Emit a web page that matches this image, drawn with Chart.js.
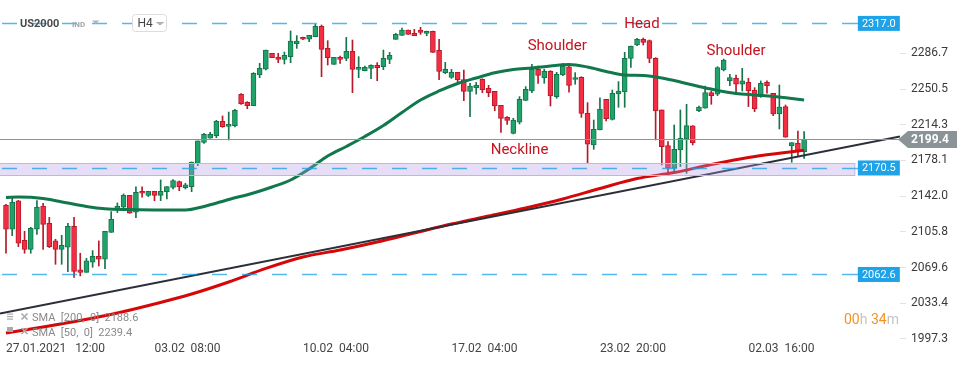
<!DOCTYPE html>
<html>
<head>
<meta charset="utf-8">
<script src="https://cdn.jsdelivr.net/npm/chart.js@4.4.1/dist/chart.umd.min.js"></script>
<style>
html, body { margin: 0; padding: 0; background: #fff; }
#wrap { width: 970px; height: 365px; }
</style>
</head>
<body>
<div id="wrap"><canvas id="chart" width="970" height="365"></canvas></div>
<script>
// US2000, H4 candles (27.01.2021 12:00 -> 02.03 after 16:00)
const opens = [2133.0,2108.4,2137.1,2097.2,2088.1,2108.4,2132.0,2114.5,2096.6,2088.1,
  2090.2,2111.4,2067.2,2064.8,2075.0,2081.0,2078.0,2105.3,2129.0,2130.7,
  2142.8,2125.6,2146.9,2142.8,2146.9,2142.8,2146.5,2150.9,2156.7,2150.6,
  2151.6,2175.2,2196.5,2200.6,2203.3,2217.8,2212.7,2213.4,2245.1,2237.0,
  2233.6,2264.7,2270.5,2286.7,2282.9,2280.6,2283.3,2296.5,2302.9,2300.9,
  2303.5,2314.0,2291.7,2275.5,2282.6,2281.6,2288.7,2270.4,2269.1,2271.4,
  2274.5,2273.1,2280.5,2300.8,2304.9,2310.3,2306.9,2310.3,2306.9,2308.9,
  2289.7,2267.0,2262.3,2267.4,2260.0,2248.1,2251.8,2260.3,2251.2,2248.1,
  2234.0,2221.8,2205.6,2216.8,2239.0,2248.5,2270.5,2262.0,2268.4,2242.8,
  2264.7,2273.1,2260.3,2262.3,2225.9,2193.8,2209.0,2240.1,2219.8,2245.5,
  2247.5,2281.6,2295.1,2300.8,2299.5,2281.6,2229.3,2193.1,2170.2,2188.8,
  2199.6,2213.1,2228.6,2231.0,2246.8,2245.2,2269.8,2259.0,2261.4,2255.3,
  2257.3,2249.5,2242.8,2257.3,2246.2,2225.2,2232.7,2192.8,2195.5,2187.1];
const highs = [2133.7,2139.8,2137.8,2106.4,2110.4,2137.4,2134.7,2120.5,2098.3,2102.3,
  2114.5,2120.5,2084.1,2079.0,2086.8,2096.6,2106.4,2126.3,2135.1,2144.2,
  2142.8,2151.3,2151.3,2146.9,2146.9,2158.4,2151.6,2158.7,2157.3,2155.0,
  2176.6,2197.9,2205.6,2206.6,2218.8,2223.2,2227.2,2229.9,2245.8,2237.7,
  2267.1,2276.5,2290.0,2286.7,2286.7,2288.0,2309.3,2304.6,2303.2,2304.9,
  2316.0,2315.4,2299.5,2282.6,2283.9,2302.8,2300.1,2283.3,2273.8,2275.0,
  2277.2,2290.0,2287.6,2306.9,2312.3,2310.3,2311.0,2313.0,2309.2,2309.2,
  2300.8,2277.5,2270.4,2267.4,2269.7,2256.2,2257.2,2260.9,2254.2,2248.1,
  2234.0,2222.5,2220.8,2242.8,2252.9,2275.5,2273.8,2270.5,2269.1,2267.4,
  2276.5,2273.8,2267.1,2263.0,2236.7,2219.1,2241.7,2240.1,2249.5,2258.0,
  2287.7,2294.1,2301.9,2302.2,2300.2,2282.3,2229.3,2197.2,2214.1,2229.3,
  2235.0,2213.4,2233.3,2253.6,2248.5,2273.2,2280.9,2265.4,2264.7,2271.5,
  2261.4,2251.9,2258.7,2258.7,2246.2,2254.6,2234.3,2196.2,2208.0,2207.3];
const lows = [2084.1,2102.0,2090.8,2084.1,2084.1,2103.3,2088.1,2089.8,2072.9,2072.9,
  2065.5,2059.7,2061.1,2064.8,2069.9,2071.2,2068.5,2105.3,2125.3,2130.3,
  2124.6,2120.2,2140.8,2141.5,2137.4,2137.4,2139.1,2149.2,2147.5,2149.2,
  2146.5,2172.9,2195.5,2200.6,2201.2,2211.7,2198.9,2212.0,2235.0,2230.6,
  2233.6,2262.0,2269.8,2282.3,2277.2,2275.9,2277.2,2291.7,2300.6,2298.5,
  2303.5,2263.0,2274.8,2275.5,2276.5,2279.2,2246.8,2262.0,2268.8,2261.0,
  2258.9,2270.1,2276.2,2300.8,2304.9,2305.9,2304.5,2305.9,2304.5,2287.6,
  2260.0,2266.0,2261.3,2257.9,2238.7,2222.5,2245.4,2246.8,2242.7,2228.5,
  2206.6,2214.7,2205.0,2215.1,2238.7,2246.8,2256.3,2256.3,2233.3,2241.1,
  2264.0,2247.2,2255.3,2221.8,2175.2,2189.4,2209.0,2218.1,2219.1,2232.0,
  2232.0,2272.5,2294.4,2295.1,2277.2,2198.9,2173.6,2164.4,2165.1,2171.9,
  2165.1,2193.8,2227.6,2231.0,2235.0,2243.8,2268.8,2253.9,2245.2,2248.5,
  2232.7,2227.6,2242.1,2246.2,2223.5,2210.0,2201.6,2176.3,2182.0,2180.3];
const closes = [2108.4,2135.7,2094.2,2088.1,2109.4,2131.0,2113.4,2090.8,2088.1,2092.2,
  2111.4,2065.8,2064.8,2076.3,2081.0,2078.0,2106.4,2118.5,2131.7,2142.8,
  2124.6,2145.9,2144.9,2146.9,2142.8,2146.9,2151.6,2157.7,2151.6,2153.3,
  2176.6,2197.9,2204.6,2204.6,2217.8,2212.4,2214.7,2228.9,2235.7,2233.6,
  2266.4,2271.5,2290.0,2282.3,2280.6,2284.6,2299.2,2299.2,2300.9,2304.9,
  2314.0,2290.7,2282.3,2282.6,2280.5,2288.7,2270.4,2272.4,2272.4,2274.5,
  2272.1,2281.6,2284.6,2305.9,2310.3,2305.9,2304.5,2307.9,2308.9,2287.6,
  2268.4,2270.4,2267.4,2260.0,2248.1,2253.5,2254.2,2249.8,2246.8,2233.3,
  2220.8,2218.8,2219.1,2240.1,2250.2,2270.5,2264.4,2268.4,2243.4,2265.4,
  2273.8,2254.2,2262.0,2225.9,2194.5,2209.7,2230.3,2220.5,2246.1,2248.5,
  2281.6,2294.1,2300.8,2297.8,2281.6,2228.2,2192.1,2170.2,2189.4,2200.6,
  2213.4,2196.2,2232.3,2246.8,2243.8,2272.2,2279.9,2262.0,2255.3,2258.7,
  2248.5,2230.3,2256.3,2253.9,2225.2,2232.3,2201.6,2196.2,2187.1,2199.4];

// time axis: candle index of each label
const tickIdx = [0, 24, 48, 72, 96, 120];
const tickLabels = ['27.01.2021   12:00', '03.02  08:00', '10.02  04:00', '17.02  04:00', '23.02  20:00', '02.03  16:00'];
const priceTicks = [1997.3, 2033.4, 2069.6, 2105.8, 2142.0, 2178.1, 2214.3, 2250.5, 2286.7];

// moving averages
const sma50Idx = [0, 2, 6, 10, 13, 16, 20, 25, 29, 32, 36, 40, 43, 46, 49, 52, 55, 58, 61, 64, 67, 70, 73, 76, 79, 82, 85, 88, 91, 94, 97, 100, 103, 106, 109, 112, 115, 118, 121, 124, 127, 129];
const sma50 = [2140.6, 2141.1, 2139.6, 2135.0, 2131.5, 2129.2, 2128.4, 2127.9, 2127.9, 2131.5, 2138.6, 2145.2, 2151.2, 2158.3, 2169.5, 2182.6, 2192.3, 2202.4, 2213.5, 2226.7, 2239.4, 2248.5, 2256.1, 2261.7, 2267.0, 2270.3, 2271.8, 2273.8, 2275.3, 2272.8, 2268.3, 2264.7, 2264.2, 2261.7, 2257.6, 2253.1, 2249.0, 2246.0, 2244.4, 2242.9, 2240.9, 2239.4];
const sma200Idx = [0, 6, 12, 18, 24, 30, 36, 42, 48, 54, 60, 66, 72, 78, 84, 90, 96, 102, 108, 114, 120, 126, 129];
const sma200 = [2003.3, 2009.4, 2016.0, 2023.6, 2032.7, 2042.8, 2055.0, 2068.7, 2080.3, 2087.4, 2095.5, 2104.6, 2113.7, 2121.8, 2130.0, 2139.1, 2149.7, 2159.8, 2165.9, 2174.0, 2181.1, 2186.2, 2188.6];

// trend line end points
const trendIdx = [-0.97, 144.5];
const trendVal = [2023.1, 2202.3];

const levels = [2317.0, 2170.5, 2062.6];
const lastPrice = 2199.4;
const zone = [2163.4, 2175.5];
const notes = [
  { text: 'Head', i: 102.8, p: 2316.4 },
  { text: 'Shoulder', i: 89.1, p: 2294.1 },
  { text: 'Shoulder', i: 118.0, p: 2289.0 },
  { text: 'Neckline', i: 83.0, p: 2188.2 }
];

const upFill = '#1fa36b', upLine = '#16744b';
const dnFill = '#f32e43', dnLine = '#b8192a';
const isUp = i => closes[i] >= opens[i];

const wickData = lows.map((l, i) => ({ x: i, y: [l, highs[i]] }));
const bodyData = opens.map((o, i) => ({ x: i, y: [Math.min(o, closes[i]), Math.max(o, closes[i])] }));
const pts = (xs, ys) => xs.map((v, k) => ({ x: v, y: ys[k] }));

const FONT = 'Roboto, "Noto Sans", sans-serif';

const extras = {
  id: 'extras',
  afterDatasetsDraw(chart) {
    const { ctx, chartArea: a, scales: { x, y } } = chart;
    const edge = x.getPixelForValue(137.2);
    ctx.save();
    // support zone
    const zt = y.getPixelForValue(zone[1]), zb = y.getPixelForValue(zone[0]);
    ctx.fillStyle = 'rgba(175,155,228,0.33)';
    ctx.fillRect(a.left, zt, edge - a.left, zb - zt);
    ctx.strokeStyle = '#c2b4e4';
    ctx.lineWidth = 1;
    ctx.strokeRect(a.left - 1, Math.round(zt) + 0.5, edge - a.left + 1, Math.round(zb - zt));
    // dashed levels
    levels.forEach(v => {
      const py = Math.round(y.getPixelForValue(v)) + 0.5;
      ctx.strokeStyle = 'rgba(25,160,230,0.75)';
      ctx.lineWidth = 1.5;
      ctx.setLineDash([15, 15]);
      ctx.beginPath(); ctx.moveTo(a.left + 2, py); ctx.lineTo(edge - 10, py); ctx.stroke();
      ctx.setLineDash([]);
      ctx.beginPath(); ctx.moveTo(edge - 10, py); ctx.lineTo(edge + 4, py); ctx.stroke();
    });
    // last price line
    const lp = Math.round(y.getPixelForValue(lastPrice)) + 0.5;
    ctx.strokeStyle = '#8d9595';
    ctx.lineWidth = 1;
    ctx.beginPath(); ctx.moveTo(a.left, lp); ctx.lineTo(a.right, lp); ctx.stroke();
    ctx.restore();
  },
  afterDraw(chart) {
    const { ctx, chartArea: a, scales: { x, y } } = chart;
    const edge = x.getPixelForValue(137.2);
    ctx.save();
    // level boxes
    levels.forEach(v => {
      const py = y.getPixelForValue(v);
      ctx.fillStyle = '#1ea2e8';
      ctx.fillRect(edge + 3, py - 7.5, 42, 15);
      ctx.fillStyle = '#fff';
      ctx.font = '11px ' + FONT;
      ctx.textAlign = 'center';
      ctx.textBaseline = 'middle';
      ctx.fillText(v.toFixed(1), edge + 24, py + 0.5);
    });
    // last price tag
    const lp = y.getPixelForValue(lastPrice);
    ctx.fillStyle = '#8a9496';
    ctx.beginPath();
    ctx.moveTo(a.right - 2, lp);
    ctx.lineTo(a.right + 8, lp - 8.5);
    ctx.lineTo(a.right + 57, lp - 8.5);
    ctx.lineTo(a.right + 57, lp + 8.5);
    ctx.lineTo(a.right + 8, lp + 8.5);
    ctx.closePath();
    ctx.fill();
    ctx.fillStyle = '#fff';
    ctx.font = 'bold 12px ' + FONT;
    ctx.textAlign = 'left';
    ctx.textBaseline = 'middle';
    ctx.fillText(lastPrice.toFixed(1), a.right + 11, lp + 0.5);
    // pattern notes
    ctx.fillStyle = '#c3141f';
    ctx.font = '15px ' + FONT;
    ctx.textAlign = 'center';
    notes.forEach(n => ctx.fillText(n.text, x.getPixelForValue(n.i), y.getPixelForValue(n.p)));
    // header
    ctx.textAlign = 'left';
    ctx.fillStyle = '#4a4a4a';
    ctx.font = 'bold 11px ' + FONT;
    ctx.fillText('US2000', 20, 24);
    ctx.fillStyle = '#a0a4a8';
    ctx.font = 'bold 8px ' + FONT;
    ctx.fillText('IND', 72, 25);
    ctx.fillStyle = '#b0b4b8';
    ctx.beginPath(); ctx.moveTo(92, 20.5); ctx.lineTo(99.5, 20.5); ctx.lineTo(95.75, 24); ctx.closePath(); ctx.fill();
    ctx.strokeStyle = '#dcdcdc';
    ctx.fillStyle = '#fff';
    ctx.lineWidth = 1;
    ctx.beginPath(); ctx.roundRect(132.5, 14.5, 34, 17, 3); ctx.fill(); ctx.stroke();
    ctx.fillStyle = '#444';
    ctx.font = '12px ' + FONT;
    ctx.fillText('H4', 137.5, 23.5);
    ctx.fillStyle = '#b0b4b8';
    ctx.beginPath(); ctx.moveTo(155.5, 22); ctx.lineTo(164.5, 22); ctx.lineTo(160, 25.5); ctx.closePath(); ctx.fill();
    // indicator legend
    ctx.fillStyle = '#8a8a8a';
    ctx.font = '11px ' + FONT;
    ctx.fillText('SMA  [200,  0]  ' + sma200[sma200.length - 1].toFixed(1), 32, 318);
    ctx.fillText('SMA  [50,  0]  ' + sma50[sma50.length - 1].toFixed(1), 32, 333);
    ctx.fillStyle = '#aaaaaa';
    [314, 316.5, 319].forEach(yy => ctx.fillRect(7, yy - 0.5, 6, 1.2));
    ctx.fillRect(7, 327, 6, 5);
    ctx.strokeStyle = '#aaaaaa';
    ctx.lineWidth = 1.6;
    [316.5, 331].forEach(cy => {
      ctx.beginPath();
      ctx.moveTo(21.5, cy - 3); ctx.lineTo(27.5, cy + 3);
      ctx.moveTo(27.5, cy - 3); ctx.lineTo(21.5, cy + 3);
      ctx.stroke();
    });
    // candle timer
    ctx.font = '14px ' + FONT;
    let tx = 844;
    [['00', '#f7931e'], ['h ', '#c4c4c4'], ['34', '#f7931e'], ['m', '#c4c4c4']].forEach(([s, c]) => {
      ctx.fillStyle = c;
      ctx.fillText(s, tx, 320.5);
      tx += ctx.measureText(s).width;
    });
    ctx.restore();
  }
};

new Chart(document.getElementById('chart'), {
  type: 'bar',
  data: {
    datasets: [
      { type: 'line', data: pts(trendIdx, trendVal), borderColor: '#2b3038', borderWidth: 2, pointRadius: 0, order: 0 },
      { type: 'line', data: pts(sma200Idx, sma200), borderColor: '#d40808', borderWidth: 3, pointRadius: 0, cubicInterpolationMode: 'monotone', order: 1 },
      { type: 'line', data: pts(sma50Idx, sma50), borderColor: '#11784c', borderWidth: 3, pointRadius: 0, cubicInterpolationMode: 'monotone', order: 2 },
      {
        type: 'bar', data: bodyData, grouped: false, barThickness: 5, minBarLength: 1.5,
        backgroundColor: c => isUp(c.dataIndex) ? upFill : dnFill,
        borderColor: c => isUp(c.dataIndex) ? upLine : dnLine,
        borderWidth: 1, borderSkipped: false, order: 5
      },
      {
        type: 'bar', data: wickData, grouped: false, barThickness: 1,
        backgroundColor: c => isUp(c.dataIndex) ? upLine : dnLine,
        borderWidth: 0, order: 6
      }
    ]
  },
  options: {
    responsive: false,
    devicePixelRatio: 1,
    animation: false,
    layout: { padding: 0 },
    plugins: { legend: { display: false }, tooltip: { enabled: false } },
    scales: {
      x: {
        type: 'linear',
        offset: false,
        min: -0.97,
        max: 144.5,
        grid: { display: false, drawTicks: false },
        border: { display: false },
        afterBuildTicks: s => { s.ticks = tickIdx.map(v => ({ value: v })); },
        afterFit: s => { s.height = 25; s.paddingLeft = 0; s.paddingRight = 0; },
        ticks: {
          autoSkip: false, maxRotation: 0, align: 'start', padding: 2,
          color: '#444', font: { family: FONT, size: 12 },
          callback: v => tickLabels[tickIdx.indexOf(v)]
        }
      },
      y: {
        position: 'right',
        min: 1996.2,
        max: 2340.7,
        grid: { drawOnChartArea: false, color: '#e2e2e2', tickLength: 6 },
        border: { display: false },
        afterBuildTicks: s => { s.ticks = priceTicks.map(v => ({ value: v })); },
        afterFit: s => { s.width = 70; s.paddingTop = 0; s.paddingBottom = 0; },
        ticks: {
          padding: 5, color: '#3a3a3a', font: { family: FONT, size: 12 },
          callback: v => v.toFixed(1)
        }
      }
    }
  },
  plugins: [extras]
});
</script>
</body>
</html>
